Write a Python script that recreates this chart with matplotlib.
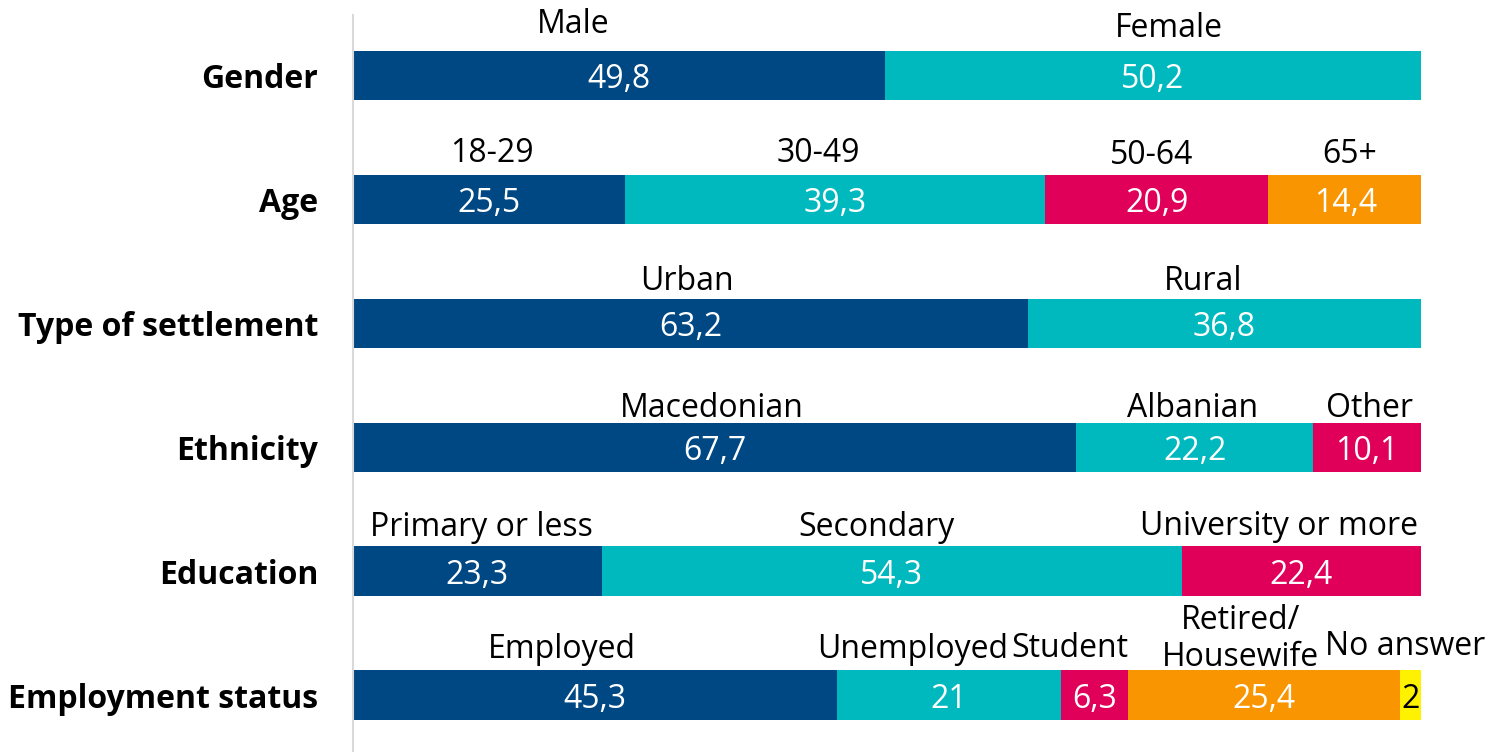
import numpy as np
import matplotlib.pyplot as plt

plt.rcParams['font.family'] = ['Open Sans', 'DejaVu Sans']

# rows of the chart, top to bottom
rows = ["Gender", "Age", "Type of settlement", "Ethnicity", "Education", "Employment status"]

gender_labels = ["Male", "Female"]
gender_values = [49.8, 50.2]
age_labels = ["18-29", "30-49", "50-64", "65+"]
age_values = [25.5, 39.3, 20.9, 14.4]
settlement_labels = ["Urban", "Rural"]
settlement_values = [63.2, 36.8]
ethnicity_labels = ["Macedonian", "Albanian", "Other"]
ethnicity_values = [67.7, 22.2, 10.1]
education_labels = ["Primary or less", "Secondary", "University or more"]
education_values = [23.3, 54.3, 22.4]
employment_labels = ["Employed", "Unemployed", "Student", "Retired/\nHousewife", "No answer"]
employment_values = [45.3, 21, 6.3, 25.4, 2]

all_labels = [gender_labels, age_labels, settlement_labels, ethnicity_labels,
              education_labels, employment_labels]
all_values = [gender_values, age_values, settlement_values, ethnicity_values,
              education_values, employment_values]

colors = ["#004884", "#00B9BE", "#E0005A", "#F89500", "#FFF200"]
value_colors = ["white", "white", "white", "white", "black"]

# nudges of the category labels so they sit like in the original
# x in data units, y = baseline lift above the bar top in pixels
label_shift = [
    [-4.3, 1.5],
    [0.3, -1.6, -0.5, 0.4],
    [-0.3, -2.0],
    [-0.3, -0.2, 0.2],
    [0.4, -1.4, -2.1],
    [-3.1, -3.4, -2.3, -2.2, -0.5],
]
label_lift = [
    [18, 14],
    [13, 13, 11, 12],
    [9, 9],
    [6, 6, 6],
    [10, 10, 11],
    [12, 12, 13, 4, 15],
]

fig = plt.figure(figsize=(14.89, 7.52), dpi=100)
ax = fig.add_axes([353 / 1489, 0, 1068 / 1489, 1 - 15 / 752])

bar_h = 0.40
for i, (labs, vals) in enumerate(zip(all_labels, all_values)):
    left = 0
    for j, (lab, v) in enumerate(zip(labs, vals)):
        ax.barh(i, v, left=left, height=bar_h, color=colors[j], linewidth=0)
        txt = str(v).replace(".", ",")
        ax.text(left + v / 2, i, txt, ha="center", va="center_baseline",
                color=value_colors[j], fontsize=23)
        ax.annotate(lab, (left + v / 2 + label_shift[i][j], i - bar_h / 2),
                    xytext=(0, label_lift[i][j] * 0.72), textcoords="offset points",
                    ha="center", va="baseline", fontsize=23, linespacing=1.15)
        left += v

ax.set_xlim(0, 100)
ax.set_ylim(5.46, -0.49)
ax.set_yticks(range(len(rows)))
ax.set_yticklabels(rows, fontsize=23, fontweight="bold")
ax.tick_params(axis="y", length=0, pad=25)
ax.set_xticks([])
for s in ["top", "right", "bottom"]:
    ax.spines[s].set_visible(False)
ax.spines["left"].set_color("#D9D9D9")
ax.spines["left"].set_linewidth(1.5)

fig.savefig("out.png", dpi=100)
